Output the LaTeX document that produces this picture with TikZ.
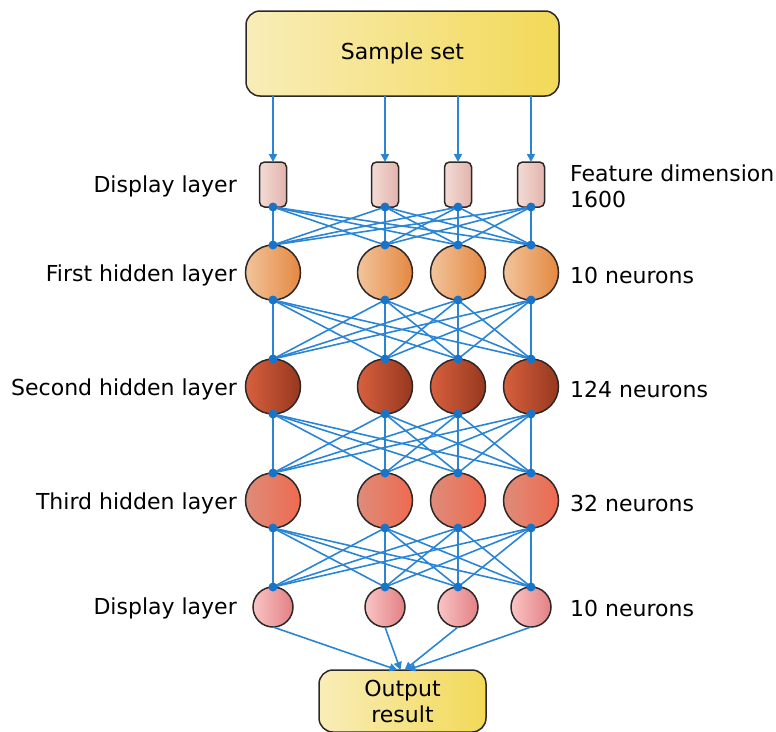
\documentclass[tikz,border=0pt]{standalone}
\usepackage{fontspec}
\setmainfont{DejaVu Sans}
\usetikzlibrary{arrows.meta, calc}
\definecolor{lnk}{RGB}{43,133,212}
\definecolor{dot}{RGB}{24,116,200}
\definecolor{edge}{RGB}{45,40,40}

\tikzset{
  yelbox/.style={draw=edge, line width=1.5pt, rounded corners=14pt, left color={rgb,255:red,249;green,237;blue,184}, right color={rgb,255:red,242;green,217;blue,88}, inner sep=0pt, outer sep=0pt, align=center},
  inbox/.style={draw=edge, line width=1.5pt, rounded corners=5pt, minimum width=27pt, minimum height=45pt, left color={rgb,255:red,243;green,219;blue,213}, right color={rgb,255:red,226;green,180;blue,172}, inner sep=0pt, outer sep=0pt},
  neuron/.style={circle, draw=edge, line width=1.5pt, minimum size=55pt, inner sep=0pt, outer sep=0pt},
  link/.style={lnk, line width=1.6pt},
  arr/.style={lnk, line width=1.6pt, -{Triangle[length=8pt,width=8pt]}},
  lbl/.style={anchor=east, inner sep=0pt},
  rbl/.style={anchor=west, inner sep=0pt, align=left}
}

\begin{document}
\begin{tikzpicture}[x=1pt, y=-1pt, font=\fontsize{22}{26}\selectfont]
\useasboundingbox (0,0) rectangle (776,731);

\node[yelbox, minimum width=313pt, minimum height=85pt] (sample) at (402.5,53.5) {Sample set};
\node[yelbox, minimum width=167pt, minimum height=62pt] (result) at (402.5,701) {Output\\result};

% layers
\foreach \i/\x in {1/273, 2/385, 3/458, 4/531}{
\node[inbox] (inp\i) at (\x,184.5) {};
\node[neuron, left color={rgb,255:red,242;green,196;blue,156}, right color={rgb,255:red,228;green,136;blue,64}] (hA\i) at (\x,272.5) {};
\node[neuron, left color={rgb,255:red,216;green,96;blue,62}, right color={rgb,255:red,150;green,56;blue,30}] (hB\i) at (\x,386.5) {};
\node[neuron, left color={rgb,255:red,222;green,140;blue,122}, right color={rgb,255:red,238;green,106;blue,80}] (hC\i) at (\x,500.5) {};
\node[neuron, minimum size=40pt, left color={rgb,255:red,250;green,196;blue,196}, right color={rgb,255:red,226;green,128;blue,132}] (outp\i) at (\x,607) {};
}

% connections
\foreach \i in {1,...,4}{
\draw[arr] (sample.south -| inp\i.north) -- (inp\i.north);
\foreach \j in {1,...,4}{
\draw[link] (inp\i.south) -- (hA\j.north);
\draw[link] (hA\i.south) -- (hB\j.north);
\draw[link] (hB\i.south) -- (hC\j.north);
\draw[link] (hC\i.south) -- (outp\j.north);
}
}

\foreach \i/\d in {1/-5, 2/-2, 3/2, 4/5}{
\coordinate (end\i) at ($(result.north)+(\d,0)$);
\draw[arr] (outp\i.south) -- (end\i);
}

% dots
\foreach \i in {1,...,4}{
\foreach \n in {inp\i.south, hA\i.north, hA\i.south, hB\i.north, hB\i.south, hC\i.north, hC\i.south, outp\i.north}{
\fill[dot] (\n) circle (4.5pt);
}
}

% labels
\node[lbl] (l1) at (237,186) {Display layer};
\node[lbl] (l2) at (237,275) {First hidden layer};
\node[lbl] (l3) at (237,389) {Second hidden layer};
\node[lbl] (l4) at (237,503) {Third hidden layer};
\node[lbl] (l5) at (237,608) {Display layer};
\node[rbl] (r1) at (570,186) {Feature dimension\\1600};
\node[rbl] (r2) at (570,275) {10 neurons};
\node[rbl] (r3) at (570,389) {124 neurons};
\node[rbl] (r4) at (570,503) {32 neurons};
\node[rbl] (r5) at (570,608) {10 neurons};
\end{tikzpicture}
\end{document}
